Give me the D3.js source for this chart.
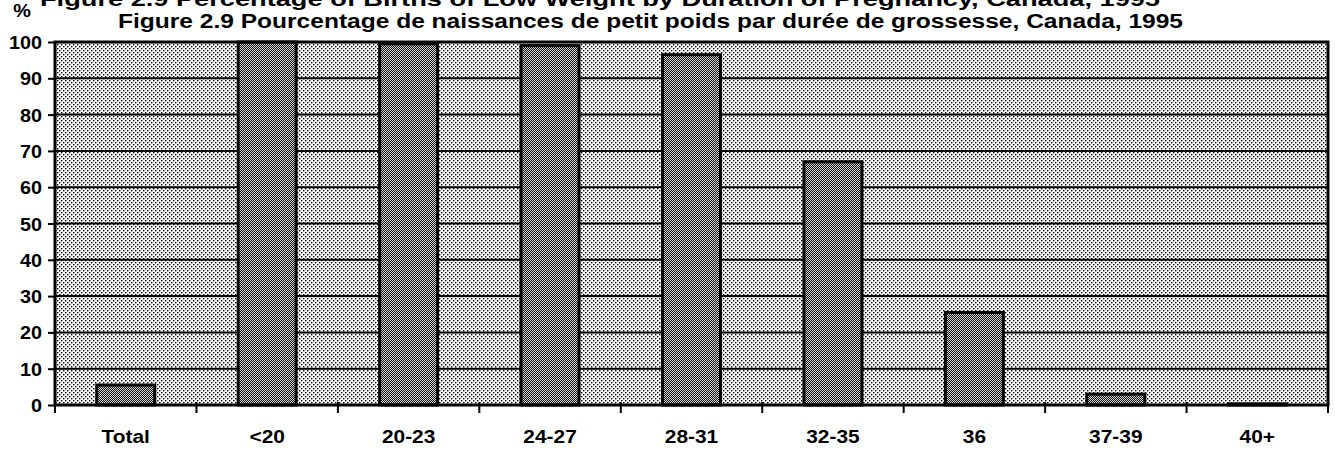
<!DOCTYPE html>
<html lang="fr">
<head>
<meta charset="utf-8">
<title>Figure 2.9</title>
<script src="https://d3js.org/d3.v7.min.js"></script>
<style>
body { margin: 0; background: #fff; }
svg { display: block; font-family: "Liberation Sans", Arial, sans-serif; font-weight: bold; }
</style>
</head>
<body>
<div id="chart"></div>
<script>
// data
var categories = ["Total", "<20", "20-23", "24-27", "28-31", "32-35", "36", "37-39", "40+"];
var values = [5.5, 100, 99.5, 99, 96.5, 67, 25.5, 3, 0.3];
var yTicks = [0, 10, 20, 30, 40, 50, 60, 70, 80, 90, 100];
var titleFr = "Figure 2.9  Pourcentage de naissances de petit poids par durée de grossesse, Canada, 1995";
var titleEn = "Figure 2.9  Percentage of Births of Low Weight by Duration of Pregnancy, Canada, 1995";

var W = 1335, H = 449;
var margin = {top: 42, right: 7, bottom: 44, left: 55};
var width = W - margin.left - margin.right,
    height = H - margin.top - margin.bottom;
var stretch = 1.1; // the scan is a bit wide, so letters are too

var svg = d3.select("#chart").append("svg")
  .attr("width", W)
  .attr("height", H);

// halftone-like fills
var defs = svg.append("defs");
var bg = defs.append("pattern")
  .attr("id", "bgDots").attr("patternUnits", "userSpaceOnUse")
  .attr("width", 4).attr("height", 4);
bg.append("rect").attr("width", 4).attr("height", 4).attr("fill", "#fff");
bg.append("rect").attr("x", 0).attr("y", 0).attr("width", 1.4).attr("height", 1.4).attr("fill", "#000");
bg.append("rect").attr("x", 2).attr("y", 2).attr("width", 1.4).attr("height", 1.4).attr("fill", "#000");

var barPat = defs.append("pattern")
  .attr("id", "barDots").attr("patternUnits", "userSpaceOnUse")
  .attr("width", 2).attr("height", 2);
barPat.append("rect").attr("width", 2).attr("height", 2).attr("fill", "#d8d8d8");
barPat.append("rect").attr("x", 0).attr("y", 0).attr("width", 1).attr("height", 1).attr("fill", "#111");
barPat.append("rect").attr("x", 1).attr("y", 1).attr("width", 1).attr("height", 1).attr("fill", "#111");

// titles (the english one is cut off at the top of the page)
svg.append("text")
  .attr("x", 40).attr("y", 6)
  .attr("textLength", 1120).attr("lengthAdjust", "spacingAndGlyphs")
  .style("font-size", "20px")
  .text(titleEn);

svg.append("text")
  .attr("x", 118).attr("y", 28)
  .attr("textLength", 1065).attr("lengthAdjust", "spacingAndGlyphs")
  .style("font-size", "20px")
  .text(titleFr);

svg.append("text")
  .attr("transform", "translate(22,17) scale(" + stretch + ",1)")
  .attr("text-anchor", "middle")
  .style("font-size", "18px")
  .text("%");

var g = svg.append("g")
  .attr("transform", "translate(" + margin.left + "," + margin.top + ")");

var x = d3.scaleBand()
  .domain(categories)
  .range([0, width])
  .padding(0);

var y = d3.scaleLinear()
  .domain([0, 100])
  .range([height, 0]);

// plot background
g.append("rect")
  .attr("width", width)
  .attr("height", height)
  .attr("fill", "url(#bgDots)");

// gridlines
g.selectAll(".grid")
  .data(yTicks.filter(function(d) { return d > 0 && d < 100; }))
  .enter().append("line")
  .attr("x1", 0).attr("x2", width)
  .attr("y1", function(d) { return y(d); })
  .attr("y2", function(d) { return y(d); })
  .attr("stroke", "#000")
  .attr("stroke-width", 2);

// bars
var barW = x.bandwidth() * 0.41;
g.selectAll(".bar")
  .data(values)
  .enter().append("rect")
  .attr("x", function(d, i) { return x(categories[i]) + (x.bandwidth() - barW) / 2; })
  .attr("y", function(d) { return y(d); })
  .attr("width", barW)
  .attr("height", function(d) { return y(0) - y(d); })
  .attr("fill", "url(#barDots)")
  .attr("stroke", "#000")
  .attr("stroke-width", 3);

// frame
g.append("rect")
  .attr("width", width)
  .attr("height", height)
  .attr("fill", "none")
  .attr("stroke", "#000")
  .attr("stroke-width", 3);

// y axis
var yAxis = g.append("g")
  .call(d3.axisLeft(y).tickValues(yTicks).tickSize(7).tickPadding(6));
yAxis.select(".domain").remove();
yAxis.selectAll("line").attr("stroke", "#000").attr("stroke-width", 2);
yAxis.selectAll("text")
  .attr("x", null).attr("dy", null)
  .attr("transform", "translate(-13,6.5) scale(" + stretch + ",1)")
  .style("font-size", "18px")
  .style("font-family", "'Liberation Sans', Arial, sans-serif")
  .style("font-weight", "bold")
  .attr("fill", "#000");

// x axis: ticks at category boundaries, labels at centres
var bounds = categories.map(function(c) { return x(c); }).concat([width]);
g.selectAll(".xtick")
  .data(bounds)
  .enter().append("line")
  .attr("x1", function(d) { return d; }).attr("x2", function(d) { return d; })
  .attr("y1", height - 3).attr("y2", height + 8)
  .attr("stroke", "#000")
  .attr("stroke-width", 2);

g.selectAll(".xlab")
  .data(categories)
  .enter().append("text")
  .attr("transform", function(d) {
    return "translate(" + (x(d) + x.bandwidth() / 2) + "," + (height + 38) + ") scale(" + stretch + ",1)";
  })
  .attr("text-anchor", "middle")
  .style("font-size", "19px")
  .text(function(d) { return d; });
</script>
</body>
</html>
